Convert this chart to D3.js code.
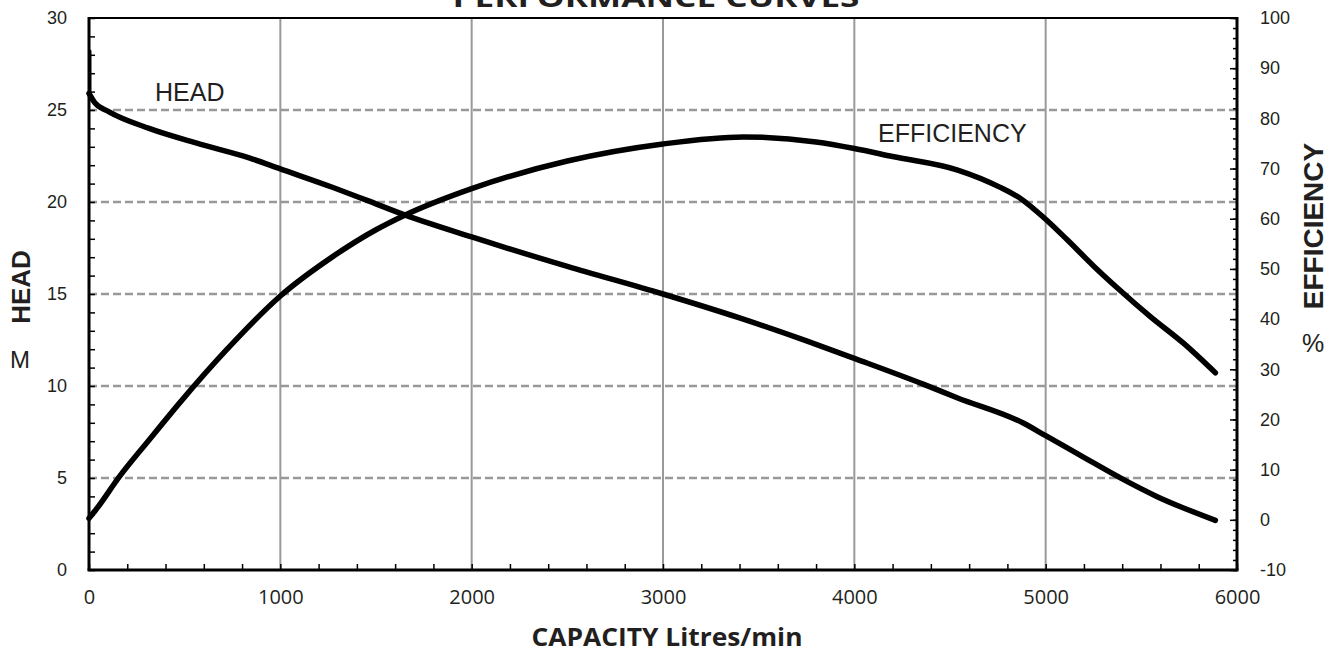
<!DOCTYPE html>
<html><head><meta charset="utf-8">
<script src="https://cdn.jsdelivr.net/npm/d3@7"></script>
<style>body{margin:0;background:#fff}svg{display:block}</style>
</head><body>
<svg id="c" width="1339" height="651"></svg>
<script>
// ---- data ----
// shut-off blip at zero capacity (mostly hidden behind the axis)
const headBlipCapacity = [0, 0];
const headBlipValues   = [28.2, 25.9];
const headCapacity = [0, 30, 105, 314, 580, 837, 1000, 1272, 1450, 1650, 2000, 2500, 3000, 3400, 3750, 4000, 4360, 4540, 4880, 5000, 5220, 5400, 5580, 5887];
const headValues   = [25.9, 25.4, 24.9, 24.0, 23.15, 22.4, 21.8, 20.8, 20.1, 19.3, 18.1, 16.5, 15.0, 13.7, 12.45, 11.5, 10.1, 9.35, 8.0, 7.3, 6.0, 4.95, 4.0, 2.7];
const effCapacity  = [0, 36, 157, 314, 487, 717, 1000, 1272, 1500, 1650, 2000, 2500, 3000, 3420, 3800, 4000, 4200, 4540, 4760, 4870, 5000, 5110, 5250, 5375, 5550, 5720, 5887];
const effValues    = [0.3, 2, 8.5, 15.9, 23.9, 33.8, 44.6, 52.4, 57.8, 60.7, 66.0, 71.5, 74.9, 76.3, 75.3, 74.0, 72.4, 69.7, 66.3, 64.0, 59.9, 55.9, 50.6, 46.2, 40.4, 35.2, 29.3];
const xTickLabels    = [0, 1000, 2000, 3000, 4000, 5000, 6000];
const headTickLabels = [0, 5, 10, 15, 20, 25, 30];
const effTickLabels  = [-10, 0, 10, 20, 30, 40, 50, 60, 70, 80, 90, 100];
const headGrid = [5, 10, 15, 20, 25];
const capGrid  = [1000, 2000, 3000, 4000, 5000];

// ---- layout ----
const L = 89, R = 1237, T = 18, B = 570;
const svg = d3.select("#c");
const x  = d3.scaleLinear().domain([0, 6000]).range([L, R]);
const yL = d3.scaleLinear().domain([0, 30]).range([B, T]);
const yR = d3.scaleLinear().domain([-10, 100]).range([B, T]);
const ink = "#231f20";
const sans = "'Liberation Sans', Arial, sans-serif";
const hum = "'Open Sans', sans-serif";

// grid
svg.append("g").selectAll("line").data(capGrid).join("line")
  .attr("x1", d => x(d)).attr("x2", d => x(d)).attr("y1", T).attr("y2", B)
  .attr("stroke", "#999").attr("stroke-width", 2);
svg.append("g").selectAll("line").data(headGrid).join("line")
  .attr("x1", L).attr("x2", R).attr("y1", d => yL(d)).attr("y2", d => yL(d))
  .attr("stroke", "#999").attr("stroke-width", 2.5).attr("stroke-dasharray", "8,4");

// curves
const headLine = d3.line().x((d, i) => x(headCapacity[i])).y(d => yL(d)).curve(d3.curveMonotoneX);
const blipLine = d3.line().x((d, i) => x(headBlipCapacity[i]) + 1).y(d => yL(d));
const effLine  = d3.line().x((d, i) => x(effCapacity[i])).y(d => yR(d)).curve(d3.curveMonotoneX);
svg.append("path").attr("d", blipLine(headBlipValues)).attr("fill", "none").attr("stroke", "#000")
  .attr("stroke-width", 3).attr("stroke-linecap", "round");
svg.append("path").attr("d", headLine(headValues)).attr("fill", "none").attr("stroke", "#000")
  .attr("stroke-width", 5.5).attr("stroke-linecap", "round").attr("stroke-linejoin", "round");
svg.append("path").attr("d", effLine(effValues)).attr("fill", "none").attr("stroke", "#000")
  .attr("stroke-width", 5.5).attr("stroke-linecap", "round").attr("stroke-linejoin", "round");

// axes (ticks inward)
function styleAxis(g, font, size) {
  g.select(".domain").remove();
  g.selectAll(".tick line").attr("stroke", "#000").attr("stroke-width", 1.5);
  g.selectAll(".tick text").attr("fill", ink).style("font-family", font).style("font-size", size + "px");
}
const gx = svg.append("g").attr("transform", `translate(0,${B})`)
  .call(d3.axisBottom(x).tickValues(d3.range(0, 6001, 200)).tickSize(-6).tickPadding(20)
    .tickFormat(d => xTickLabels.includes(d) ? String(d) : ""));
styleAxis(gx, hum, 20);

const gl = svg.append("g").attr("transform", `translate(${L},0)`)
  .call(d3.axisLeft(yL).tickValues(d3.range(0, 31, 1)).tickSize(-6).tickPadding(22)
    .tickFormat(d => headTickLabels.includes(d) ? String(d) : ""));
styleAxis(gl, sans, 18);

const grMinor = svg.append("g").attr("transform", `translate(${R},0)`)
  .call(d3.axisRight(yR).tickValues(d3.range(-10, 101, 2)).tickSize(-4).tickFormat(""));
styleAxis(grMinor, sans, 18);
const grMajor = svg.append("g").attr("transform", `translate(${R},0)`)
  .call(d3.axisRight(yR).tickValues(effTickLabels).tickSize(-7).tickPadding(23).tickFormat(d => String(d)));
styleAxis(grMajor, sans, 18);

// frame
svg.append("line").attr("x1", L).attr("x2", R).attr("y1", T).attr("y2", T).attr("stroke", "#000").attr("stroke-width", 2);
svg.append("line").attr("x1", L - 1.5).attr("x2", R + 1.5).attr("y1", B).attr("y2", B).attr("stroke", "#000").attr("stroke-width", 3);
svg.append("line").attr("x1", L).attr("x2", L).attr("y1", T - 1).attr("y2", B).attr("stroke", "#000").attr("stroke-width", 3);
svg.append("line").attr("x1", R).attr("x2", R).attr("y1", T - 1).attr("y2", B).attr("stroke", "#000").attr("stroke-width", 3);

// text
svg.append("text").attr("x", 656).attr("y", 7).attr("text-anchor", "middle")
  .attr("textLength", 407).attr("lengthAdjust", "spacingAndGlyphs")
  .style("font-family", hum).style("font-weight", 700).style("font-size", "26px").attr("fill", ink)
  .text("PERFORMANCE CURVES");
svg.append("text").attr("x", 667).attr("y", 646).attr("text-anchor", "middle")
  .attr("textLength", 271).attr("lengthAdjust", "spacingAndGlyphs")
  .style("font-family", hum).style("font-weight", 700).style("font-size", "25px").attr("fill", ink)
  .text("CAPACITY Litres/min");
svg.append("text").attr("x", 155).attr("y", 101)
  .style("font-family", sans).style("font-size", "25px").attr("fill", ink).text("HEAD");
svg.append("text").attr("x", 878).attr("y", 142)
  .style("font-family", sans).style("font-size", "25px").attr("fill", ink).text("EFFICIENCY");
svg.append("text").attr("transform", "translate(30,287) rotate(-90)").attr("text-anchor", "middle")
  .style("font-family", sans).style("font-weight", 700).style("font-size", "26px").attr("fill", ink).text("HEAD");
svg.append("text").attr("x", 20).attr("y", 368).attr("text-anchor", "middle")
  .style("font-family", sans).style("font-size", "24px").attr("fill", ink).text("M");
svg.append("text").attr("transform", "translate(1323,226) rotate(-90)").attr("text-anchor", "middle")
  .style("font-family", sans).style("font-weight", 700).style("font-size", "28px").attr("fill", ink).text("EFFICIENCY");
svg.append("text").attr("x", 1313).attr("y", 352).attr("text-anchor", "middle")
  .style("font-family", sans).style("font-size", "25px").attr("fill", ink).text("%");
</script>
</body></html>
